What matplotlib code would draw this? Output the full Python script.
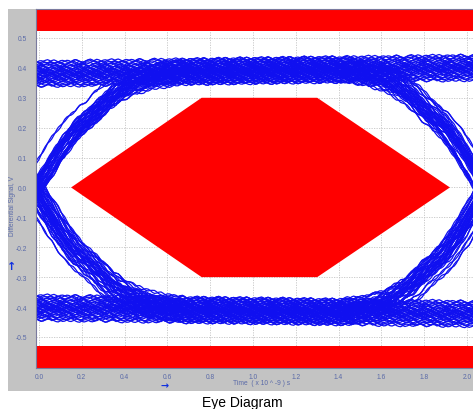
import numpy as np
import matplotlib
matplotlib.use("Agg")
import matplotlib.pyplot as plt
from matplotlib.patches import Rectangle, Polygon

plt.rcParams['font.family'] = ['Liberation Sans', 'DejaVu Sans']

W, H = 473, 410

# ---------------- data ----------------
x_ticks = [0.0, 0.2, 0.4, 0.6, 0.8, 1.0, 1.2, 1.4, 1.6, 1.8, 2.0]
x_tick_labels = ["0.0", "0.2", "0.4", "0.6", "0.8", "1.0", "1.2", "1.4", "1.6", "1.8", "2.0"]
y_ticks = [0.5, 0.4, 0.3, 0.2, 0.1, 0.0, -0.1, -0.2, -0.3, -0.4, -0.5]
y_tick_labels = ["0.5", "0.4", "0.3", "0.2", "0.1", "0.0", "-0.1", "-0.2", "-0.3", "-0.4", "-0.5"]

# eye mask (hexagon) and upper / lower mask bands
mask_hex_x = [0.15, 0.76, 1.30, 1.92, 1.30, 0.76]
mask_hex_y = [0.0, 0.30, 0.30, 0.0, -0.30, -0.30]
mask_top = 0.523
mask_bottom = -0.530

# signal levels at t = 0 and t = 2 (rails tilt slightly)
high_level = [0.380, 0.400]
low_level = [-0.403, -0.423]
level_times = [0.0, 2.0]
# crossing points of the eye
crossing_times = [-0.02, 2.09]
# transition profile (time from crossing -> fraction of swing)
edge_t = [-0.70, -0.55, -0.45, -0.36, -0.28, -0.19, -0.11, -0.05, 0.0,
          0.05, 0.11, 0.19, 0.28, 0.36, 0.45, 0.55, 0.70]
edge_frac = [0.0, 0.02, 0.05, 0.10, 0.17, 0.24, 0.34, 0.43, 0.50,
             0.57, 0.66, 0.76, 0.83, 0.90, 0.95, 0.98, 1.0]
# previous / current / next bit patterns
bit_patterns = [(0, 0, 0), (0, 0, 1), (0, 1, 0), (0, 1, 1),
                (1, 0, 0), (1, 0, 1), (1, 1, 0), (1, 1, 1)]
# per-trace vertical offsets, edge jitter and ripple
level_offsets = [-0.034, -0.028, -0.023, -0.018, -0.014, -0.010, -0.007, -0.004, -0.001, 0.002,
                 0.005, 0.008, 0.011, 0.015, 0.019, 0.024, 0.029, 0.035, -0.040, 0.041]
edge_jitter = [-0.042, -0.034, -0.028, -0.022, -0.017, -0.012, -0.008, -0.005, -0.002, 0.001,
               0.004, 0.007, 0.010, 0.014, 0.018, 0.023, 0.029, 0.035, 0.043, -0.048]
ripple = [0.002, 0.005, 0.003, -0.001, -0.004, -0.003, 0.001, 0.004, 0.006, 0.003,
          -0.002, -0.005, -0.006, -0.002, 0.002, 0.003, 0.001, -0.003, -0.004, -0.001,
          0.003, 0.005, 0.002, -0.002, -0.005, -0.003, 0.000, 0.003, 0.002, -0.002]
sample_times = np.linspace(-0.05, 2.10, 216)

# ---------------- figure ----------------
fig = plt.figure(figsize=(W / 100, H / 100), dpi=100)
fig.patch.set_facecolor('white')

def fx(px):
    return px / W

def fy(py):
    return 1 - py / H

panel = Rectangle((fx(8), fy(392)), fx(473) - fx(8), fy(10) - fy(392),
                  transform=fig.transFigure, facecolor='#c3c3c3', edgecolor='none', zorder=-5)
fig.patches.append(panel)

ax = fig.add_axes([fx(36), fy(369), fx(473) - fx(36), fy(10) - fy(369)])
ax.set_facecolor('white')
ax.set_xlim(-0.014, 2.028)
ax.set_ylim(-0.604, 0.597)

# grid
for xv in x_ticks:
    ax.axvline(xv, color='#c4c4c4', lw=0.6, ls=(0, (1.5, 1.5)), zorder=1)
for yv in y_ticks:
    ax.axhline(yv, color='#c4c4c4', lw=0.6, ls=(0, (1.5, 1.5)), zorder=1)

# eye traces
hi = np.interp(sample_times, level_times, high_level)
lo = np.interp(sample_times, level_times, low_level)
nr = len(ripple)
n_per = len(level_offsets)
k = 0
for (b0, b1, b2) in bit_patterns:
    for i in range(n_per):
        d = level_offsets[i]
        j0 = edge_jitter[(i * 7) % n_per]
        j1 = edge_jitter[(i * 13 + 3) % n_per]
        s = (b0 + (b1 - b0) * np.interp(sample_times - crossing_times[0] - j0, edge_t, edge_frac)
             + (b2 - b1) * np.interp(sample_times - crossing_times[1] - j1, edge_t, edge_frac))
        rp = np.array([ripple[(m + k * 11) % nr] for m in range(len(sample_times))])
        v = lo + (hi - lo) * s + d + rp
        ax.plot(sample_times, v, color='#1010f0', lw=0.9, zorder=2, solid_joinstyle='round')
        k += 1

# masks
ax.axhspan(mask_top, 1.0, color='#ff0000', zorder=4, lw=0)
ax.axhspan(-1.0, mask_bottom, color='#ff0000', zorder=4, lw=0)
ax.add_patch(Polygon(list(zip(mask_hex_x, mask_hex_y)), closed=True,
                     facecolor='#ff0000', edgecolor='none', zorder=4))

# ticks
ax.set_xticks(x_ticks, x_tick_labels)
ax.set_yticks(y_ticks, y_tick_labels)
ax.tick_params(axis='both', length=0, labelsize=4.8, labelcolor='#5a6aa8')
ax.tick_params(axis='y', pad=6.5)
ax.tick_params(axis='x', pad=3.6)

for side in ['left', 'top', 'bottom']:
    ax.spines[side].set_color('#7a7a9e')
    ax.spines[side].set_linewidth(0.8)
    ax.spines[side].set_zorder(6)
ax.spines['right'].set_visible(False)

# labels
fig.text(fx(13), fy(206), "Differential Signal, V", rotation=90, ha='center', va='center',
         fontsize=4.8, color='#5a6aa8')
fig.text(fx(262), fy(384), "Time  ( x 10 ^ -9 ) s", ha='center', va='center',
         fontsize=4.8, color='#5a6aa8')
fig.text(fx(12), fy(267), "\u2191", ha='center', va='center', fontsize=8,
         fontweight='bold', color='#1030e0', family=['DejaVu Sans'])
fig.text(fx(165), fy(386), "\u2192", ha='center', va='center', fontsize=7,
         fontweight='bold', color='#1030e0', family=['DejaVu Sans'])
fig.text(fx(242), fy(403), "Eye Diagram", ha='center', va='center', fontsize=10, color='black')

fig.savefig("out.png", dpi=100)
